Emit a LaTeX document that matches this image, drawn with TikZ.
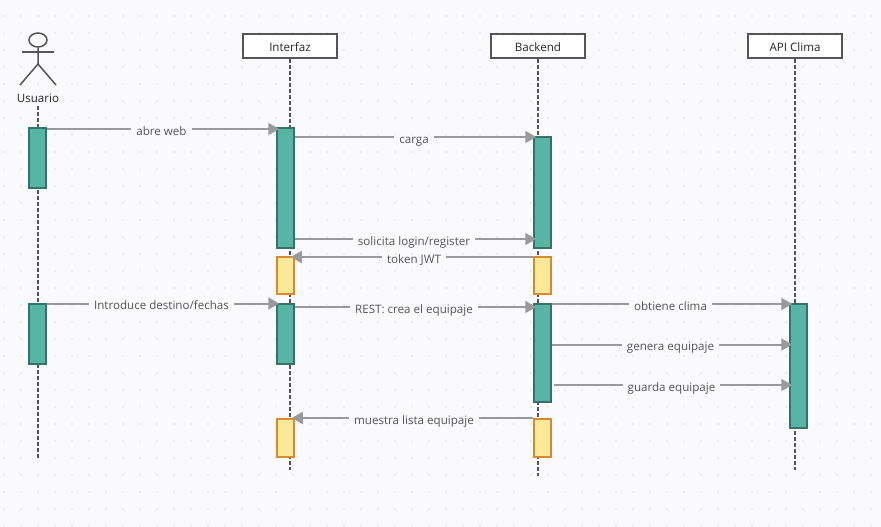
\documentclass[tikz,border=0pt]{standalone}
\usepackage{fontspec}
\setmainfont{Open Sans}
\usetikzlibrary{arrows.meta,positioning,shapes.geometric}
\definecolor{bgpaper}{HTML}{FAFAFD}
\definecolor{griddot}{HTML}{DFE0E3}
\definecolor{inkdark}{HTML}{555555}
\definecolor{msggray}{HTML}{9A9A9A}
\definecolor{greenfill}{HTML}{57B5A5}
\definecolor{greenline}{HTML}{34736A}
\definecolor{yellowfill}{HTML}{FBE899}
\definecolor{yellowline}{HTML}{D98A2E}
\tikzset{
	partbox/.style={draw=inkdark, line width=1.5pt, fill=white, inner sep=0pt, minimum width=94pt, minimum height=24pt, text height=12pt, text depth=0pt, text=black!85, font=\fontsize{11.6}{14}\selectfont},
	lifeline/.style={draw=inkdark, line width=1.5pt, dash pattern=on 4pt off 2pt},
	actgreen/.style={draw=greenline, line width=1.5pt, fill=greenfill, inner sep=0pt, minimum width=17pt},
	actyellow/.style={draw=yellowline, line width=1.5pt, fill=yellowfill, inner sep=0pt, minimum width=17pt},
	msg/.style={draw=msggray, line width=2pt, -{Triangle[length=11pt,width=12pt]}, shorten >=-3pt},
	msglabel/.style={midway, yshift=-3pt, fill=bgpaper, inner xsep=5pt, inner ysep=0pt, text height=8.5pt, text depth=2.5pt, text=inkdark, font=\fontsize{11.6}{14}\selectfont}
}
\begin{document}
\begin{tikzpicture}[x=1pt,y=-1pt]
	\useasboundingbox (0,0) rectangle (881,527);
	\fill[bgpaper] (0,0) rectangle (881,527);
	% dotted paper
	\foreach \x in {4,21,...,880}
	\foreach \y in {16,33,...,526}
	\fill[griddot] (\x,\y) circle (0.9pt);
	% participants
	\node[partbox] (interfaz) at (290,46) {Interfaz};
	\node[partbox] (backend) at (538,46) {Backend};
	\node[partbox] (clima) at (795,46) {API Clima};
	% actor
	\node[font=\fontsize{11.6}{14}\selectfont, text=black!85] (usuario) at (38,98.5) {Usuario};
	\node[draw=inkdark, line width=1.5pt, ellipse, minimum width=18pt, minimum height=14pt, inner sep=0pt] (head) at (38,40) {};
	\coordinate (hip) at (38,64);
	\draw[inkdark, line width=1.5pt] (head.south) -- (hip) -- (20,85);
	\draw[inkdark, line width=1.5pt] (hip) -- (56,85);
	\draw[inkdark, line width=1.5pt] (22,52) -- (54,52);
	% lifelines
	\coordinate (usuarioend) at (38,460);
	\coordinate (interfazend) at (290,470);
	\coordinate (backendend) at (538,476);
	\coordinate (climaend) at (795,470);
	\draw[lifeline] (usuario.south) -- (usuarioend);
	\draw[lifeline] (interfaz.south) -- (interfazend);
	\draw[lifeline] (backend.south) -- (backendend);
	\draw[lifeline] (clima.south) -- (climaend);
	% activations
	\foreach \n/\x/\y/\h in {usrA/37.5/158/60, usrB/37.5/334/60, intA/285.5/188/120, intB/285.5/334/60, backA/542.5/192.5/111, backB/542.5/353/98, climaA/798.5/366/124}
	\node[actgreen, minimum height=\h pt] (\n) at (\x,\y) {};
	\foreach \n/\x/\y/\h in {intY/285.5/275.5/37, intZ/285.5/438/38, backY/542.5/275.5/37, backZ/542.5/438/38}
	\node[actyellow, minimum height=\h pt] (\n) at (\x,\y) {};
	% messages
	\foreach \a/\b/\y/\lbl in {usrA/intA/129/abre web, intA/backA/137/carga, intA/backA/239/{solicita login/register}, usrB/intB/303.5/{Introduce destino/fechas}, intB/backB/307/{REST: crea el equipaje}, backB/climaA/304/obtiene clima, backB/climaA/344.5/genera equipaje}
	\draw[msg] (\a.east |- 0,\y) -- (\b.west |- 0,\y) node[msglabel] {\lbl};
	\draw[msg] ([xshift=2pt]backB.east |- 0,385) -- (climaA.west |- 0,385) node[msglabel] {guarda equipaje};
	\draw[msg, shorten >=-4pt] (backY.west |- 0,257) -- (intY.east |- 0,257) node[msglabel] {token JWT};
	\draw[msg] (backZ.west |- 0,418) -- (intZ.east |- 0,418) node[msglabel] {muestra lista equipaje};
\end{tikzpicture}
\end{document}
